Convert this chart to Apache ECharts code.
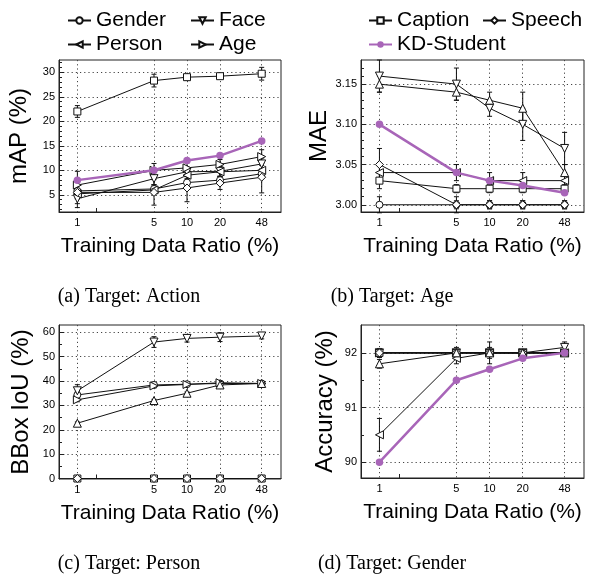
<!DOCTYPE html>
<html><head><meta charset="utf-8">
<script src="https://cdn.jsdelivr.net/npm/echarts@6/dist/echarts.min.js"></script>
<style>html,body{margin:0;padding:0;background:#fff}#c{width:600px;height:576px}</style>
</head><body><div id="c"></div>
<script>
// ---------- data ----------
const ratios = [1, 5, 10, 20, 48];
const xTickLabels = [1, 5, 10, 20, 48];
const xMinorTicks = [1.5];

// (a) Target: Action — mAP (%)
const aGender = [5.8, 6.2, 7.5, 8.0, 9.3],   aGenderErr = [1.0, 0.8, 0.8, 0.8, 1.0];
const aFace = [4.2, 8.3, 9.7, 9.8, 11.3],    aFaceErr = [1.8, 1.2, 1.0, 1.0, 1.2];
const aPerson = [5.2, 6.0, 9.0, 9.7, 10.0],  aPersonErr = [1.0, 1.0, 1.0, 1.0, 1.0];
const aAge = [7.0, 10.0, 10.5, 11.2, 12.8],  aAgeErr = [2.8, 1.4, 1.0, 1.0, 1.4];
const aCaption = [22.0, 28.3, 29.0, 29.2, 29.7], aCaptionErr = [1.2, 1.3, 0.3, 0.3, 1.3];
const aSpeech = [5.5, 5.5, 6.4, 7.4, 8.6],   aSpeechErr = [2.3, 2.6, 2.8, 1.3, 3.2];
const aKD = [8, 10, 12, 13, 16];
const aTicks = [5, 10, 15, 20, 25, 30];
const aMinor = [2,3,4,6,7,8,9,11,12,13,14,16,17,18,19,21,22,23,24,26,27,28,29,31,32];

// (b) Target: Age — MAE
const bGender = [3.00, 3.00, 3.00, 3.00, 3.00],  bGenderErr = [0.01, 0.005, 0.005, 0.005, 0.005];
const bFace = [3.16, 3.15, 3.12, 3.10, 3.07],    bFaceErr = [0.02, 0.02, 0.01, 0.02, 0.02];
const bPerson = [3.04, 3.04, 3.03, 3.03, 3.03],  bPersonErr = [0.01, 0.01, 0.01, 0.01, 0.01];
const bCaption = [3.03, 3.02, 3.02, 3.02, 3.02], bCaptionErr = [0.01, 0.005, 0.005, 0.005, 0.005];
const bSpeech = [3.05, 3.00, 3.00, 3.00, 3.00],  bSpeechErr = [0.02, 0.01, 0.005, 0.005, 0.005];
const bAction = [3.15, 3.14, 3.13, 3.12, 3.04],  bActionErr = [0.01, 0.01, 0.01, 0.02, 0.01];
const bKD = [3.10, 3.04, 3.03, 3.024, 3.015];
const bTicks = [3.00, 3.05, 3.10, 3.15];
const bMinor = [3.01,3.02,3.03,3.04,3.06,3.07,3.08,3.09,3.11,3.12,3.13,3.14,3.16,3.17];

// (c) Target: Person — BBox IoU (%)
const cGender = [34.3, 38.4, 38.7, 39.0, 39.0],  cGenderErr = [1.5, 0.8, 0.8, 0.8, 0.8];
const cFace = [36.0, 56.0, 57.5, 58.0, 58.5],    cFaceErr = [2.5, 2.2, 1.5, 1.8, 1.2];
const cAge = [32.3, 38.0, 38.6, 39.3, 39.0],     cAgeErr = [0.8, 0.8, 0.8, 0.8, 0.8];
const cCaption = [0, 0, 0, 0, 0],                cCaptionErr = [0, 0, 0, 0, 0];
const cSpeech = [0, 0, 0, 0, 0],                 cSpeechErr = [0, 0, 0, 0, 0];
const cAction = [22.7, 32.0, 35.0, 38.4, 39.0],  cActionErr = [0.5, 0.5, 0.5, 0.5, 0.5];
const cTicks = [0, 10, 20, 30, 40, 50, 60];
const cMinor = [5, 15, 25, 35, 45, 55];

// (d) Target: Gender — Accuracy (%)
const dFace = [92.0, 92.0, 92.0, 92.0, 92.1],    dFaceErr = [0.05, 0.1, 0.2, 0.05, 0.1];
const dPerson = [90.5, 91.9, 92.0, 92.0, 92.0],  dPersonErr = [0.3, 0.1, 0.1, 0.05, 0.05];
const dAge = [92.0, 92.0, 92.0, 92.0, 92.0],     dAgeErr = [0.08, 0.05, 0.05, 0.05, 0.05];
const dCaption = [92.0, 92.0, 92.0, 92.0, 92.0], dCaptionErr = [0.08, 0.05, 0.05, 0.05, 0.05];
const dSpeech = [92.0, 92.0, 92.0, 92.0, 92.0],  dSpeechErr = [0.08, 0.05, 0.05, 0.05, 0.05];
const dAction = [91.8, 92.0, 92.0, 92.0, 92.0],  dActionErr = [0.08, 0.05, 0.05, 0.05, 0.05];
const dKD = [90.0, 91.5, 91.7, 91.9, 92.0];
const dTicks = [90, 91, 92];
const dMinor = [90.5, 91.5];

const legendNames = ['Gender', 'Face', 'Person', 'Age', 'Caption', 'Speech', 'KD-Student'];

// ---------- styles ----------
const FONT = "'Liberation Sans', Arial, Helvetica, sans-serif";
const SERIF = "'Liberation Serif', 'Times New Roman', serif";
const PURPLE = '#a865b8';
const markers = {
  'Gender':  {symbol: 'circle', rot: 0, size: 7},
  'Face':    {symbol: 'triangle', rot: 180, size: 8},
  'Person':  {symbol: 'triangle', rot: 90, size: 8},
  'Age':     {symbol: 'triangle', rot: -90, size: 8},
  'Caption': {symbol: 'rect', rot: 0, size: 7},
  'Speech':  {symbol: 'diamond', rot: 0, size: 8},
  'Action':  {symbol: 'triangle', rot: 0, size: 8}
};

const panels = [
  {grid: {left: 59, top: 60, width: 222, height: 152}, ymin: 1.5, ymax: 32.5, ticks: aTicks, minor: aMinor,
   yname: 'mAP (%)', ygap: 28, dec: 0,
   series: [['Gender', aGender, aGenderErr], ['Face', aFace, aFaceErr], ['Person', aPerson, aPersonErr],
            ['Age', aAge, aAgeErr], ['Caption', aCaption, aCaptionErr], ['Speech', aSpeech, aSpeechErr]],
   kd: aKD, caption: '(a) Target: Action', cx: 129, cy: 297},
  {grid: {left: 361, top: 60, width: 223, height: 152}, ymin: 2.991, ymax: 3.180, ticks: bTicks, minor: bMinor,
   yname: 'MAE', ygap: 22, dec: 2,
   series: [['Gender', bGender, bGenderErr], ['Face', bFace, bFaceErr], ['Person', bPerson, bPersonErr],
            ['Caption', bCaption, bCaptionErr], ['Speech', bSpeech, bSpeechErr], ['Action', bAction, bActionErr]],
   kd: bKD, caption: '(b) Target: Age', cx: 392, cy: 297},
  {grid: {left: 59, top: 325, width: 222, height: 154}, ymin: -0.2, ymax: 63, ticks: cTicks, minor: cMinor,
   yname: 'BBox IoU (%)', ygap: 26, dec: 0,
   series: [['Gender', cGender, cGenderErr], ['Face', cFace, cFaceErr], ['Age', cAge, cAgeErr],
            ['Action', cAction, cActionErr], ['Caption', cCaption, cCaptionErr], ['Speech', cSpeech, cSpeechErr]],
   kd: null, caption: '(c) Target: Person', cx: 129, cy: 564},
  {grid: {left: 361, top: 325, width: 223, height: 153}, ymin: 89.71, ymax: 92.51, ticks: dTicks, minor: dMinor,
   yname: 'Accuracy (%)', ygap: 24, dec: 0,
   series: [['Face', dFace, dFaceErr], ['Person', dPerson, dPersonErr], ['Age', dAge, dAgeErr],
            ['Caption', dCaption, dCaptionErr], ['Speech', dSpeech, dSpeechErr], ['Action', dAction, dActionErr]],
   kd: dKD, caption: '(d) Target: Gender', cx: 392, cy: 564}
];

const grid = [], xAxis = [], yAxis = [], series = [], graphic = [];
const axisTextCol = '#000';
const dotted = {type: [1.2, 3], color: '#444', width: 1};
panels.forEach((p, gi) => {
  grid.push(Object.assign({show: true, borderColor: '#222', borderWidth: 1, backgroundColor: 'transparent'}, p.grid));
  xAxis.push({
    type: 'log', logBase: 10, gridIndex: gi, min: 0.68, max: 72, position: 'bottom',
    name: 'Training Data Ratio (%)', nameLocation: 'middle', nameGap: 24,
    nameTextStyle: {fontSize: 21, fontFamily: FONT, color: '#000'},
    axisLine: {show: true, lineStyle: {color: '#222', width: 1}},
    axisTick: {show: false, customValues: xTickLabels},
    axisLabel: {customValues: xTickLabels, fontSize: 11, fontFamily: FONT, color: axisTextCol, margin: 5},
    splitLine: {show: true, lineStyle: dotted},
    minorTick: {show: false}, minorSplitLine: {show: false}
  });
  xAxis.push({
    type: 'log', logBase: 10, gridIndex: gi, min: 0.68, max: 72, position: 'bottom',
    axisLine: {show: false},
    axisTick: {show: true, inside: true, length: 4, customValues: xMinorTicks, lineStyle: {color: '#222'}},
    axisLabel: {show: false}, splitLine: {show: false}
  });
  yAxis.push({
    type: 'value', gridIndex: gi, min: p.ymin, max: p.ymax, position: 'left',
    name: p.yname, nameLocation: 'middle', nameGap: p.ygap,
    nameTextStyle: {fontSize: 24, fontFamily: FONT, color: '#000'},
    axisLine: {show: true, lineStyle: {color: '#222', width: 1}},
    axisTick: {show: true, inside: true, length: 5, customValues: p.ticks, lineStyle: {color: '#222'}},
    axisLabel: {customValues: p.ticks, fontSize: 11, fontFamily: FONT, color: axisTextCol, margin: 4,
                formatter: v => Number(v).toFixed(p.dec)},
    splitLine: {show: true, lineStyle: dotted}
  });
  yAxis.push({
    type: 'value', gridIndex: gi, min: p.ymin, max: p.ymax, position: 'left',
    axisLine: {show: false},
    axisTick: {show: true, inside: true, length: 3, customValues: p.minor, lineStyle: {color: '#222'}},
    axisLabel: {show: false}, splitLine: {show: false}
  });
  const xi = 2 * gi, yi = 2 * gi;
  p.series.forEach(([name, vals, errs]) => {
    const m = markers[name];
    series.push({
      type: 'custom', name: name + ' err', xAxisIndex: xi, yAxisIndex: yi, silent: true, z: 2,
      data: ratios.map((x, i) => [x, vals[i], errs[i]]),
      renderItem(params, api) {
        const x = api.value(0), v = api.value(1), e = api.value(2);
        if (!e) return null;
        const t = api.coord([x, v + e]), b = api.coord([x, v - e]);
        const w = 2.5, st = {stroke: '#111', lineWidth: 1};
        return {type: 'group', children: [
          {type: 'line', shape: {x1: t[0], y1: t[1], x2: b[0], y2: b[1]}, style: st},
          {type: 'line', shape: {x1: t[0] - w, y1: t[1], x2: t[0] + w, y2: t[1]}, style: st},
          {type: 'line', shape: {x1: b[0] - w, y1: b[1], x2: b[0] + w, y2: b[1]}, style: st}
        ]};
      }
    });
    series.push({
      type: 'line', name: name, xAxisIndex: xi, yAxisIndex: yi, z: 3,
      data: ratios.map((x, i) => [x, vals[i]]),
      symbol: m.symbol, symbolSize: m.size, symbolRotate: m.rot, showAllSymbol: true,
      lineStyle: {color: '#111', width: 1},
      itemStyle: {color: '#fff', borderColor: '#111', borderWidth: 1},
      emphasis: {disabled: true}, animation: false, clip: false
    });
  });
  if (p.kd) {
    series.push({
      type: 'line', name: 'KD-Student', xAxisIndex: xi, yAxisIndex: yi, z: 5,
      data: ratios.map((x, i) => [x, p.kd[i]]),
      symbol: 'circle', symbolSize: 7.5,
      lineStyle: {color: PURPLE, width: 2.5},
      itemStyle: {color: PURPLE},
      emphasis: {disabled: true}, animation: false
    });
  }
  graphic.push({type: 'text', x: p.cx, y: p.cy,
    style: {text: p.caption, font: '20px ' + SERIF, fill: '#000', textAlign: 'center', textVerticalAlign: 'middle'}});
});

const legendPos = {
  'Gender': [67, 10], 'Face': [190, 10], 'Person': [67, 34], 'Age': [190, 34],
  'Caption': [368, 10], 'Speech': [482, 10], 'KD-Student': [368, 34]
};
const legend = legendNames.map(n => ({
  data: [n], left: legendPos[n][0], top: legendPos[n][1], padding: 0, itemGap: 0,
  itemWidth: 23, itemHeight: 8, selectedMode: false,
  textStyle: {fontSize: 21, fontFamily: FONT, color: '#000'}
}));

const chart = echarts.init(document.getElementById('c'), null, {renderer: 'canvas'});
chart.setOption({backgroundColor: '#fff', animation: false, grid, xAxis, yAxis, series, legend, graphic});
</script></body></html>
